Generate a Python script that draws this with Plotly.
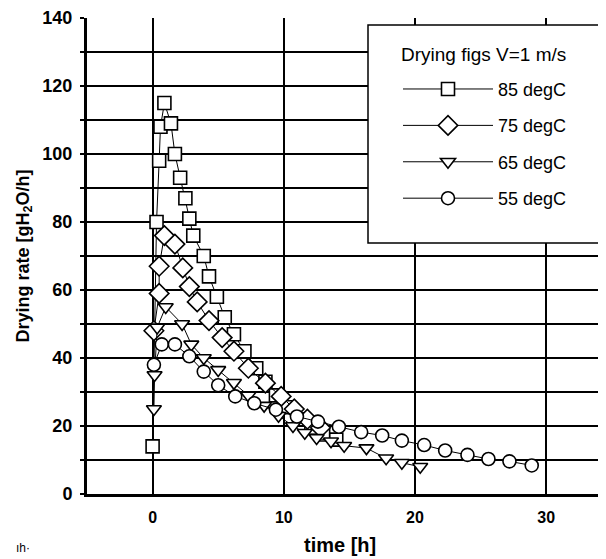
import plotly.graph_objects as go

# ---- data ----
t85 = [0.0, 0.3, 0.5, 0.6, 0.9, 1.4, 1.7, 2.1, 2.5, 2.8, 3.1, 3.9, 4.3, 4.9, 5.5, 6.2, 7.0, 7.9, 8.6, 9.4, 10.3, 11.2, 12.1, 13.0, 14.0]
r85 = [14, 80, 98, 108, 115, 109, 100, 93, 87, 81, 76, 70, 64, 58, 52, 47, 42, 37, 33, 29, 25.5, 22, 19.5, 17.5, 16]

t75 = [0.1, 0.5, 0.5, 0.9, 1.7, 2.3, 2.8, 3.4, 4.3, 5.3, 6.2, 7.3, 8.6, 9.8, 10.8, 11.8, 12.8]
r75 = [48, 59, 67, 76, 73.5, 66.5, 61, 56.5, 51, 46, 42, 37, 32.6, 28.7, 25, 22, 19.5]

t65 = [0.1, 0.15, 0.35, 1.0, 2.25, 2.95, 3.9, 5.0, 6.2, 7.3, 8.5, 9.6, 10.7, 11.6, 12.5, 13.6, 14.6, 16.3, 17.8, 19.0, 20.4]
r65 = [25, 35, 49, 55, 50, 44, 40, 36.5, 32.7, 29, 26, 23, 20, 18, 16.5, 15.5, 14.2, 13.5, 10.5, 9.2, 8]

t55 = [0.1, 0.7, 1.7, 2.8, 3.9, 5.0, 6.3, 7.75, 9.4, 11.0, 12.6, 14.2, 15.9, 17.5, 19.0, 20.7, 22.3, 24.0, 25.6, 27.2, 28.9]
r55 = [38, 44, 44, 40.5, 36, 32, 28.7, 26.7, 24.8, 22.8, 21.3, 19.8, 18.2, 17.2, 15.7, 14.4, 12.8, 11.5, 10.3, 9.6, 8.4]

series_names = ["85 degC", "75 degC", "65 degC", "55 degC"]
legend_title = "Drying figs V=1 m/s"
x_title = "time [h]"
y_title = "Drying rate [gH<sub>2</sub>O/h]"
x_ticks = [0, 10, 20, 30]
y_ticks = [0, 20, 40, 60, 80, 100, 120, 140]
stray_label = "ıh·"

symbols = ["square", "diamond", "triangle-down", "circle"]
sizes = [13, 15, 13, 13]
data = [(t85, r85), (t75, r75), (t65, r65), (t55, r55)]

FONT = "Liberation Sans, Arial, sans-serif"

fig = go.Figure()
for i, ((tx, ry), name) in enumerate(zip(data, series_names)):
    fig.add_trace(go.Scatter(
        x=tx, y=ry, name=name, mode="lines+markers",
        legendgroup=name,
        line=dict(color="black", width=1),
        marker=dict(symbol=symbols[i], size=sizes[i],
                    color="white", line=dict(color="black", width=1.6)),
    ))

# plot area in screen pixels: left 87, top 16, width 527, height 478
def px_x(p):
    return (p - 87) / 527

def px_y(p):
    return (494 - p) / 478

fig.update_layout(
    width=606, height=559,
    margin=dict(l=79, r=0, t=8, b=73),
    paper_bgcolor="white", plot_bgcolor="white",
    font=dict(family=FONT, color="black"),
    showlegend=True,
    legend=dict(
        x=px_x(398), y=px_y(69), xanchor="left", yanchor="top",
        bgcolor="rgba(0,0,0,0)", borderwidth=0,
        itemwidth=90, tracegroupgap=10,
        font=dict(size=18, family=FONT),
    ),
    xaxis=dict(
        range=[-5, 35.17], tickvals=x_ticks, ticktext=[str(v) for v in x_ticks],
        showgrid=True, gridcolor="black", gridwidth=1.8,
        zeroline=False, showline=True, linecolor="black", linewidth=3,
        ticks="", ticklabelstandoff=7, ticklabeloverflow="allow",
        tickfont=dict(size=16, family=FONT, weight="bold"),
    ),
    yaxis=dict(
        range=[0, 140], tickvals=y_ticks, ticktext=[str(v) for v in y_ticks],
        showgrid=True, gridcolor="black", gridwidth=1.8,
        minor=dict(dtick=10, tick0=0, showgrid=True, gridcolor="black", gridwidth=1.8,
                   ticks="outside", ticklen=4, tickwidth=1.5, tickcolor="black"),
        zeroline=False, showline=True, linecolor="black", linewidth=3,
        ticks="outside", ticklen=4, tickwidth=1.5, tickcolor="black",
        ticklabelstandoff=4, ticklabeloverflow="allow",
        tickfont=dict(size=18, family=FONT, weight="bold"),
        title=dict(text="<b>" + y_title + "</b>", font=dict(size=18), standoff=9),
    ),
    shapes=[dict(type="rect", xref="paper", yref="paper",
                 x0=px_x(368), x1=px_x(602), y0=px_y(242), y1=px_y(23),
                 fillcolor="white", line=dict(color="black", width=1.5),
                 layer="above")],
    annotations=[
        dict(text=legend_title, x=px_x(483), y=px_y(53),
             xref="paper", yref="paper", xanchor="center", yanchor="middle",
             showarrow=False, font=dict(size=19, family=FONT)),
        dict(text="<b>" + x_title + "</b>", x=px_x(340), y=px_y(545),
             xref="paper", yref="paper", xanchor="center", yanchor="middle",
             showarrow=False, font=dict(size=20, family=FONT)),
        dict(text=stray_label, x=px_x(14), y=px_y(548),
             xref="paper", yref="paper", xanchor="left", yanchor="middle",
             showarrow=False, font=dict(size=12)),
    ],
)

fig.write_html("out.html")
